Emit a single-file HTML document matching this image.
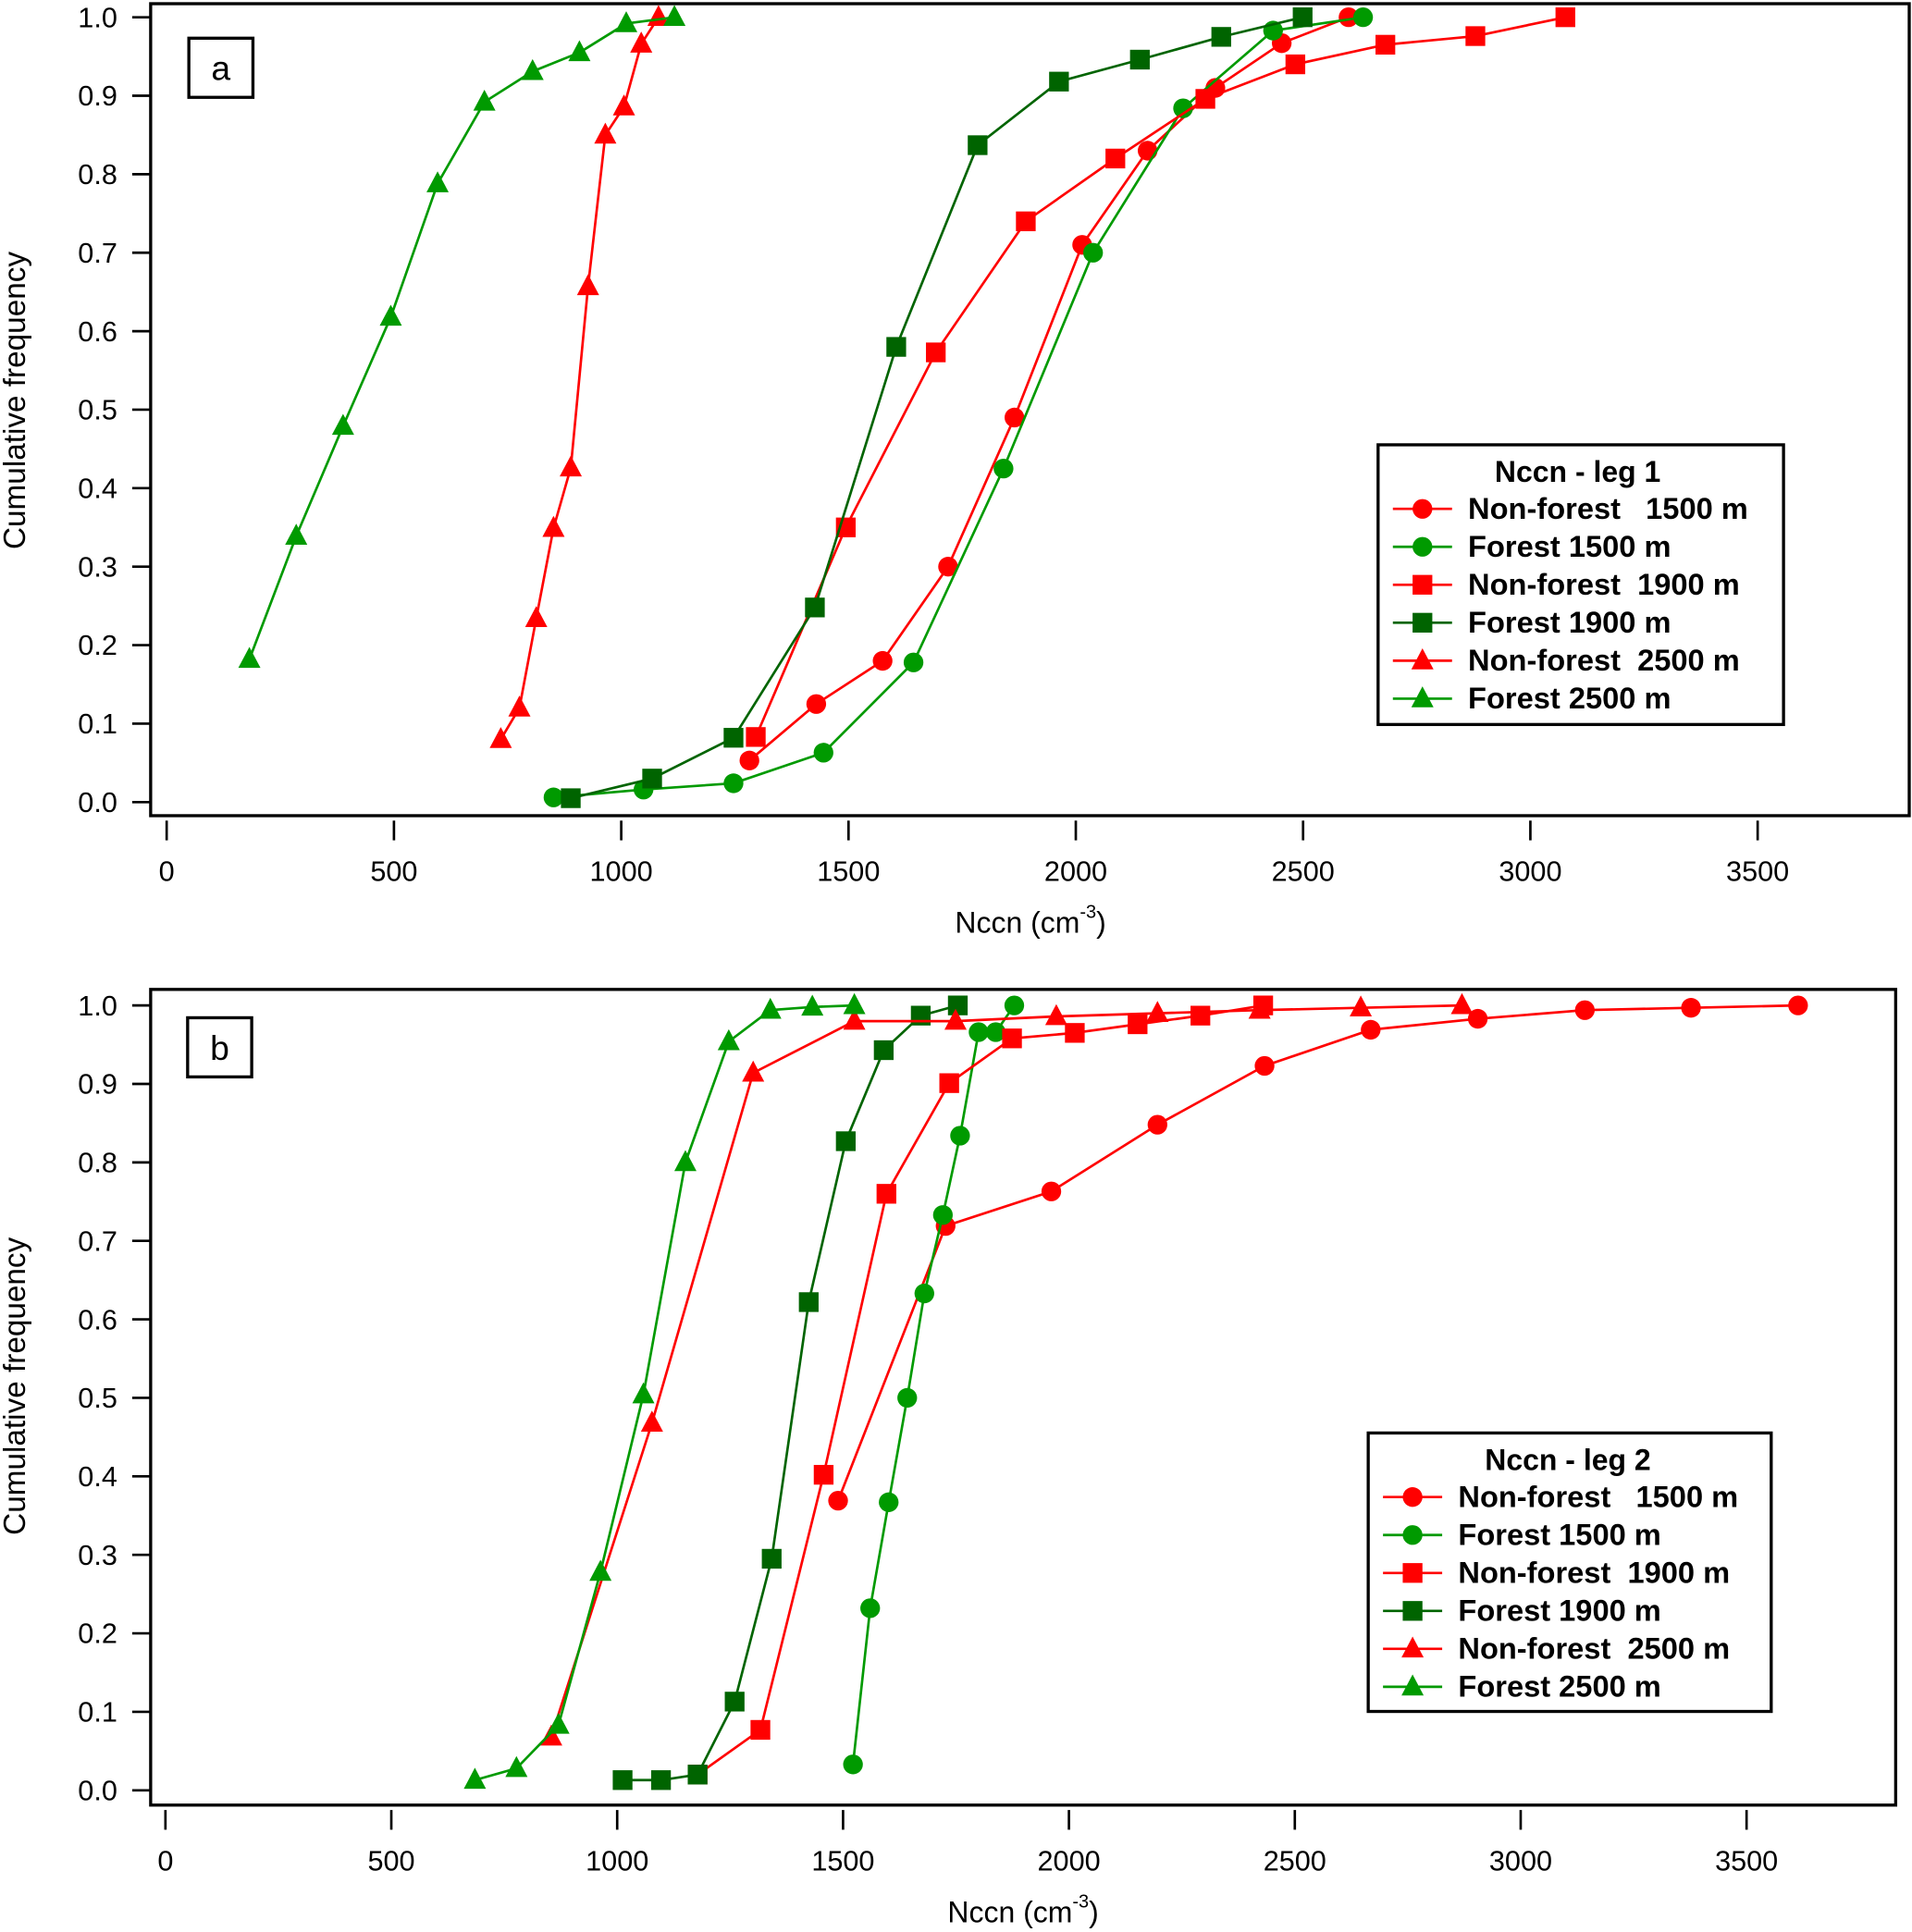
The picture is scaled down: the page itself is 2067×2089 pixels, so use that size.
<!DOCTYPE html>
<html><head><meta charset="utf-8"><style>
html,body{margin:0;padding:0;background:#fff}
svg{display:block}
text{font-family:"Liberation Sans",Arial,sans-serif}
</style></head><body>
<svg id="fig" width="2067" height="2089" viewBox="0 0 1551 1568" xmlns="http://www.w3.org/2000/svg"></svg>
<script>
// ---- Panel a data (leg 1) ----
const aNF1500x=[1282,1429,1575,1719,1865,2014,2158,2307,2453,2600];
const aNF1500y=[0.053,0.125,0.18,0.30,0.49,0.71,0.83,0.91,0.967,1.0];
const aF1500x=[851,1049,1247,1445,1643,1841,2038,2236,2434,2632];
const aF1500y=[0.006,0.016,0.024,0.063,0.178,0.425,0.70,0.884,0.983,1.0];
const aNF1900x=[1296,1494,1692,1890,2087,2285,2483,2681,2879,3077];
const aNF1900y=[0.083,0.35,0.573,0.74,0.82,0.896,0.94,0.965,0.976,1.0];
const aF1900x=[889,1068,1247,1426,1605,1784,1963,2141,2320,2499];
const aF1900y=[0.005,0.03,0.082,0.248,0.58,0.837,0.918,0.946,0.975,1.0];
const aNF2500x=[735,776,813,851,889,927,965,1006,1044,1082];
const aNF2500y=[0.08,0.12,0.234,0.349,0.426,0.657,0.85,0.886,0.966,1.0];
const aF2500x=[182,285,388,493,596,699,805,908,1011,1117];
const aF2500y=[0.182,0.339,0.479,0.618,0.788,0.892,0.931,0.955,0.992,1.0];
// ---- Panel b data (leg 2) ----
const bNF1500x=[1489,1727,1961,2196,2433,2668,2905,3142,3377,3614];
const bNF1500y=[0.369,0.719,0.763,0.848,0.923,0.969,0.983,0.994,0.997,1.0];
const bF1500x=[1522,1560,1601,1642,1680,1721,1759,1800,1838,1879];
const bF1500y=[0.033,0.232,0.367,0.5,0.633,0.733,0.834,0.966,0.966,1.0];
const bNF1900x=[1178,1317,1457,1596,1735,1874,2013,2152,2291,2430];
const bNF1900y=[0.02,0.077,0.402,0.76,0.901,0.958,0.965,0.976,0.987,1.0];
const bF1900x=[1012,1097,1178,1260,1342,1424,1506,1590,1672,1754];
const bF1900y=[0.013,0.013,0.02,0.113,0.295,0.622,0.827,0.943,0.987,1.0];
const bNF2500x=[854,1077,1301,1525,1749,1972,2196,2422,2646,2870];
const bNF2500y=[0.068,0.468,0.914,0.98,0.98,0.986,0.99,0.994,0.997,1.0];
const bF2500x=[685,777,870,963,1058,1151,1247,1339,1432,1525];
const bF2500y=[0.013,0.028,0.083,0.278,0.504,0.8,0.954,0.994,0.998,1.0];
const xTicks=[0,500,1000,1500,2000,2500,3000,3500];
const yTicks=[0,0.1,0.2,0.3,0.4,0.5,0.6,0.7,0.8,0.9,1.0];
const legendLabels=["Non-forest   1500 m","Forest 1500 m","Non-forest  1900 m","Forest 1900 m","Non-forest  2500 m","Forest 2500 m"];

const NS="http://www.w3.org/2000/svg";
const svg=document.getElementById('fig');
const RED="#ff0000",GREEN="#009a00",DKGREEN="#006400";
function mk(tag,attrs,parent){const e=document.createElementNS(NS,tag);for(const k in attrs)e.setAttribute(k,attrs[k]);(parent||svg).appendChild(e);return e;}
function marker(g,shape,cx,cy,col){
  let e;
  if(shape==='c'){e=mk('circle',{cx:cx,cy:cy,r:8,fill:col},g);}
  else if(shape==='s'){e=mk('rect',{x:cx-8,y:cy-8,width:16,height:16,fill:col},g);}
  else {e=mk('polygon',{points:`${cx},${cy-10} ${cx-9},${cy+7} ${cx+9},${cy+7}`,fill:col},g);}
  
  
}
function panel(P){
  const g=mk('g',{});
  
  
  const sx=v=>P.x0+v*P.kx, sy=v=>P.y0-v*P.ky;
  const fr=mk('rect',{x:P.fx,y:P.fy,width:P.fw,height:P.fh,fill:'none',stroke:'#000','stroke-width':2.5},g);
  
  
  yTicks.forEach(t=>{
    const y=sy(t);
    mk('line',{x1:P.fx-15,x2:P.fx,y1:y,y2:y,stroke:'#000','stroke-width':2},g);
    const tx=mk('text',{x:P.fx-27,y:y+8,'font-size':23,'text-anchor':'end'},g);
    tx.textContent=t.toFixed(1);
    
    
  });
  xTicks.forEach(t=>{
    const x=sx(t);
    mk('line',{x1:x,x2:x,y1:P.fy+P.fh+4,y2:P.fy+P.fh+20,stroke:'#000','stroke-width':2},g);
    const tx=mk('text',{x:x,y:P.fy+P.fh+53,'font-size':23,'text-anchor':'middle'},g);
    tx.textContent=t;
    
    
  });
  const xt=mk('text',{x:P.xtX,y:P.xtY,'font-size':24,'text-anchor':'middle'},g);
  xt.innerHTML='Nccn (cm<tspan dy="-12" font-size="15">-3</tspan><tspan dy="12">)</tspan>';
  
  
  const ytt=mk('text',{x:0,y:0,'font-size':25,'text-anchor':'middle',transform:`translate(20,${P.ytY}) rotate(-90)`},g);
  ytt.textContent='Cumulative frequency';
  
  
  P.series.forEach(s=>{
    const sg=mk('g',{},g);
    
    
    const pts=s.x.map((v,i)=>sx(v)+','+sy(s.y[i])).join(' ');
    mk('polyline',{points:pts,fill:'none',stroke:s.col,'stroke-width':2},sg);
    s.x.forEach((v,i)=>marker(sg,s.shape,sx(v),sy(s.y[i]),s.col));
  });
  const lb=mk('g',{},g);
  
  
  mk('rect',{x:P.lbx,y:P.lby,width:52,height:48,fill:'#fff',stroke:'#000','stroke-width':2.5},lb);
  const lt=mk('text',{x:P.lbx+26,y:P.lby+34,'font-size':28,'text-anchor':'middle'},lb);
  lt.textContent=P.id;
  const L=mk('g',{},g);
  
  
  mk('rect',{x:P.lx,y:P.ly,width:P.lw,height:P.lh,fill:'#fff',stroke:'#000','stroke-width':2.5},L);
  const tt=mk('text',{x:P.lx+162,y:P.ly+30,'font-size':24,'font-weight':'bold','text-anchor':'middle'},L);
  tt.textContent=P.title;
  
  
  P.series.forEach((s,i)=>{
    const eg=mk('g',{},L);
    
    
    const y=P.ly+52+i*30.8;
    mk('line',{x1:P.lx+12,x2:P.lx+60,y1:y,y2:y,stroke:s.col,'stroke-width':2},eg);
    marker(eg,s.shape,P.lx+36,y,s.col);
    const t=mk('text',{x:P.lx+73,y:y+8,'font-size':24.5,'font-weight':'bold'},eg);
    t.setAttribute('style','white-space:pre');
    t.textContent=legendLabels[i];
  });
}
panel({id:'a',x0:135,kx:(1426-135)/3500,y0:651,ky:637,fx:122,fy:3,fw:1427,fh:659,
  xtX:836,xtY:757,ytY:325,lbx:153,lby:31,lx:1118,ly:361,lw:329,lh:227,title:'Nccn - leg 1',
  series:[
    {name:'nonforest-1500',x:aNF1500x,y:aNF1500y,col:RED,shape:'c'},
    {name:'forest-1500',x:aF1500x,y:aF1500y,col:GREEN,shape:'c'},
    {name:'nonforest-1900',x:aNF1900x,y:aNF1900y,col:RED,shape:'s'},
    {name:'forest-1900',x:aF1900x,y:aF1900y,col:DKGREEN,shape:'s'},
    {name:'nonforest-2500',x:aNF2500x,y:aNF2500y,col:RED,shape:'t'},
    {name:'forest-2500',x:aF2500x,y:aF2500y,col:GREEN,shape:'t'}]});
panel({id:'b',x0:134,kx:(1417-134)/3500,y0:1453,ky:637,fx:122,fy:803,fw:1416,fh:662,
  xtX:830,xtY:1560,ytY:1125,lbx:152,lby:826,lx:1110,ly:1163,lw:327,lh:226,title:'Nccn - leg 2',
  series:[
    {name:'nonforest-1500',x:bNF1500x,y:bNF1500y,col:RED,shape:'c'},
    {name:'forest-1500',x:bF1500x,y:bF1500y,col:GREEN,shape:'c'},
    {name:'nonforest-1900',x:bNF1900x,y:bNF1900y,col:RED,shape:'s'},
    {name:'forest-1900',x:bF1900x,y:bF1900y,col:DKGREEN,shape:'s'},
    {name:'nonforest-2500',x:bNF2500x,y:bNF2500y,col:RED,shape:'t'},
    {name:'forest-2500',x:bF2500x,y:bF2500y,col:GREEN,shape:'t'}]});
</script>
</body></html>
